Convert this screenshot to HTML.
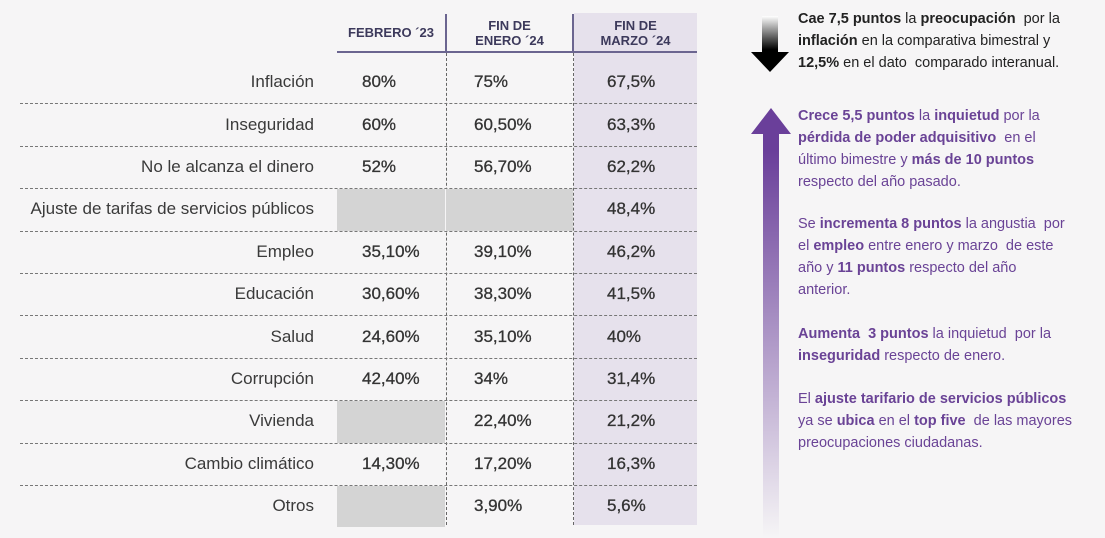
<!DOCTYPE html>
<html><head><meta charset="utf-8"><style>
body{margin:0;width:1105px;height:538px;background:#f6f5f6;font-family:"Liberation Sans Narrow","Liberation Sans",sans-serif;color:#3a3a3a;position:relative;overflow:hidden}
.a{position:absolute}
.lbl{position:absolute;right:791px;font-size:17px;white-space:nowrap;transform:translateY(-50%)}
.v{position:absolute;font-size:17px;transform:translateY(-50%);color:#333;-webkit-text-stroke:0.3px #333}
.hd{position:absolute;font-family:"Liberation Sans",sans-serif;font-weight:bold;font-size:13px;color:#3d3a5c;text-align:center;line-height:15px}
.sep{position:absolute;left:20px;width:677px;border-top:1px dashed #777}
.note{position:absolute;left:798px;width:290px;font-size:14.5px;line-height:22px;color:#222}
.p{color:#6a4396}.p b{color:#6a4396}
</style></head><body>
<div class="a" style="left:574px;top:13px;width:123px;height:512px;background:#e6e1ec"></div>
<div class="hd" style="left:337px;top:25px;width:108px">FEBRERO ´23</div>
<div class="hd" style="left:446px;top:18px;width:127px">FIN DE<br>ENERO ´24</div>
<div class="hd" style="left:574px;top:18px;width:123px">FIN DE<br>MARZO ´24</div>
<div class="a" style="left:445px;top:14px;width:2px;height:38px;background:#6b6590"></div>
<div class="a" style="left:572px;top:14px;width:2px;height:38px;background:#6b6590"></div>
<div class="a" style="left:337px;top:51px;width:360px;height:2px;background:#6b6590"></div>
<div class="a" style="left:446px;top:53px;height:472px;border-left:1px dashed #666"></div>
<div class="a" style="left:573px;top:53px;height:472px;border-left:1px dashed #666"></div>
<div id="tbl"></div>
<svg class="a" style="left:750px;top:12px" width="42" height="62"><defs><linearGradient id="g1" x1="0" y1="0" x2="0" y2="1"><stop offset="0" stop-color="#fff"/><stop offset="0.6" stop-color="#000"/></linearGradient></defs><polygon points="12,4 28,4 28,40 39,40 20,60 1,40 12,40" fill="url(#g1)"/></svg>
<svg class="a" style="left:750px;top:106px" width="42" height="432"><defs><linearGradient id="g2" x1="0" y1="0" x2="0" y2="1"><stop offset="0.1" stop-color="#6a3f9a"/><stop offset="1" stop-color="#f6f5f6"/></linearGradient></defs><polygon points="21,2 41,28 29,28 29,432 13,432 13,28 1,28" fill="url(#g2)"/></svg>
<div class="note" style="top:8px"><b>Cae 7,5 puntos</b> la <b>preocupación</b>&nbsp; por la <b>inflación</b> en la comparativa bimestral y <b>12,5%</b> en el dato&nbsp; comparado interanual.</div>
<div class="note p" style="top:105px"><b>Crece 5,5 puntos</b> la <b>inquietud</b> por la<br><b>pérdida de poder adquisitivo</b>&nbsp; en el<br>último bimestre y <b>más de 10 puntos</b><br>respecto del año pasado.</div>
<div class="note p" style="top:213px">Se <b>incrementa 8 puntos</b> la angustia&nbsp; por<br>el <b>empleo</b> entre enero y marzo&nbsp; de este<br>año y <b>11 puntos</b> respecto del año<br>anterior.</div>
<div class="note p" style="top:323px"><b>Aumenta&nbsp; 3 puntos</b> la inquietud&nbsp; por la<br><b>inseguridad</b> respecto de enero.</div>
<div class="note p" style="top:388px">El <b>ajuste tarifario de servicios públicos</b><br>ya se <b>ubica</b> en el <b>top five</b>&nbsp; de las mayores<br>preocupaciones ciudadanas.</div>
<script>
const categories=["Inflación","Inseguridad","No le alcanza el dinero","Ajuste de tarifas de servicios públicos","Empleo","Educación","Salud","Corrupción","Vivienda","Cambio climático","Otros"];
const feb23=["80%","60%","52%",null,"35,10%","30,60%","24,60%","42,40%",null,"14,30%",null];
const ene24=["75%","60,50%","56,70%",null,"39,10%","38,30%","35,10%","34%","22,40%","17,20%","3,90%"];
const mar24=["67,5%","63,3%","62,2%","48,4%","46,2%","41,5%","40%","31,4%","21,2%","16,3%","5,6%"];
const t=document.getElementById('tbl');
const top0=61,rh=42.4;
categories.forEach((c,i)=>{
 const cy=top0+rh*i+rh/2;
 const l=document.createElement('div');l.className='lbl';l.style.top=cy+'px';l.textContent=c;
 
 
 t.appendChild(l);
 [[feb23,362,337,108],[ene24,474,446,127],[mar24,607,574,123]].forEach(([arr,x,gx,gw])=>{
  if(arr[i]===null){const g=document.createElement('div');g.className='a';g.style.cssText=`left:${gx}px;top:${top0+rh*i+1}px;width:${gw}px;height:${rh-1}px;background:#d4d4d4`;
   
   
   t.appendChild(g);}
  else{const v=document.createElement('div');v.className='v';v.style.left=x+'px';v.style.top=cy+'px';v.textContent=arr[i];
   
   
   t.appendChild(v);}
 });
 if(i<categories.length-1){const s=document.createElement('div');s.className='sep';s.style.top=(top0+rh*(i+1))+'px';
  
  
  t.appendChild(s);}
});
</script>
</body></html>
